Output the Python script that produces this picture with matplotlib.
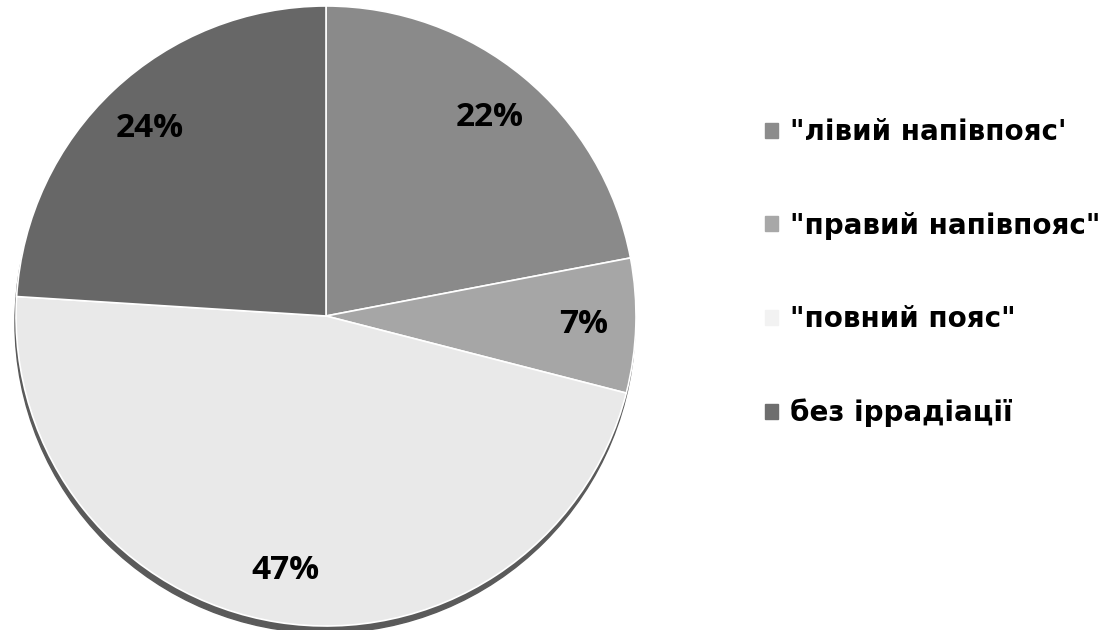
import matplotlib.pyplot as plt
from matplotlib.patches import Circle

labels = ['"лівий напівпояс\'', '"правий напівпояс"', '"повний пояс"', 'без іррадіації']
values = [22, 7, 47, 24]
colors = ["#8a8a8a", "#a6a6a6", "#e9e9e9", "#676767"]
legend_colors = ["#8c8c8c", "#a8a8a8", "#f2f2f2", "#6e6e6e"]

W, H = 1104, 630
cx, cy, r = 326, H - 316, 310

fig = plt.figure(figsize=(W / 100, H / 100), dpi=100)
ax = fig.add_axes([0, 0, 1, 1])

# bottom shadow of the 3d pie
ax.add_patch(Circle((cx - 1, cy - 7), r, color="#5a5a5a", zorder=0))

wedges, _, autotexts = ax.pie(
    values,
    colors=colors,
    startangle=90,
    counterclock=False,
    center=(cx, cy),
    radius=r,
    autopct="%d%%",
    pctdistance=0.83,
    wedgeprops=dict(edgecolor="white", linewidth=1.2),
    textprops=dict(fontsize=24, fontweight="bold", family="Open Sans", color="black"),
)
for w in wedges:
    w.set_zorder(1)

ax.set_xlim(0, W)
ax.set_ylim(0, H)
ax.set_aspect("equal")
ax.axis("off")

handles = [plt.Rectangle((0, 0), 1, 1, color=c) for c in legend_colors]
fig.legend(
    handles, labels,
    loc="center left", bbox_to_anchor=(0.693, 0.567),
    frameon=False, borderpad=0, borderaxespad=0,
    handlelength=0.45, handleheight=0.45, handletextpad=0.45,
    labelspacing=2.36,
    prop=dict(family="DejaVu Sans", weight="bold", size=20),
)

fig.savefig("out.png", dpi=100)
